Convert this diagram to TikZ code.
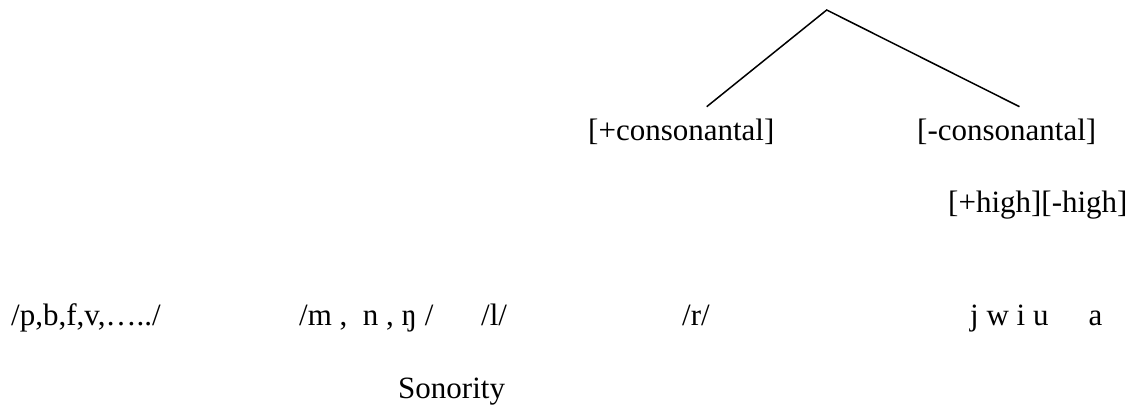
\documentclass[tikz,border=0pt]{standalone}
\usepackage{fontspec}
\setmainfont{Liberation Serif}
\begin{document}
\begin{tikzpicture}[x=1pt,y=-1pt,
  lbl/.style={anchor=base west,inner sep=0pt,font=\fontsize{31}{36}\selectfont},
  branch/.style={line width=1.5pt}]
\useasboundingbox (0,0) rectangle (1137,406);
\coordinate (top) at (826.7,10);
\node[lbl] (plus) at (588,141) {[+consonantal]};
\node[lbl] (minus) at (917,141) {[-consonantal]};
\coordinate (lend) at (706.7,106.7);
\coordinate (rend) at (1019.5,106.7);
\draw[branch] (lend) -- (top) -- (rend);
\node[lbl] (high) at (948,212) {[+high][-high]};
\node[lbl] (obs) at (11,325) {/p,b,f,v,…../};
\node[lbl] (nas) at (299,325) {/m ,~~n , ŋ /};
\node[lbl] (lat) at (481,325) {/l/};
\node[lbl] (rho) at (682,325) {/r/};
\node[lbl] (vow) at (970,325) {j w i u\hspace{40pt}a};
\node[lbl] (son) at (398,398) {Sonority};
\end{tikzpicture}
\end{document}
